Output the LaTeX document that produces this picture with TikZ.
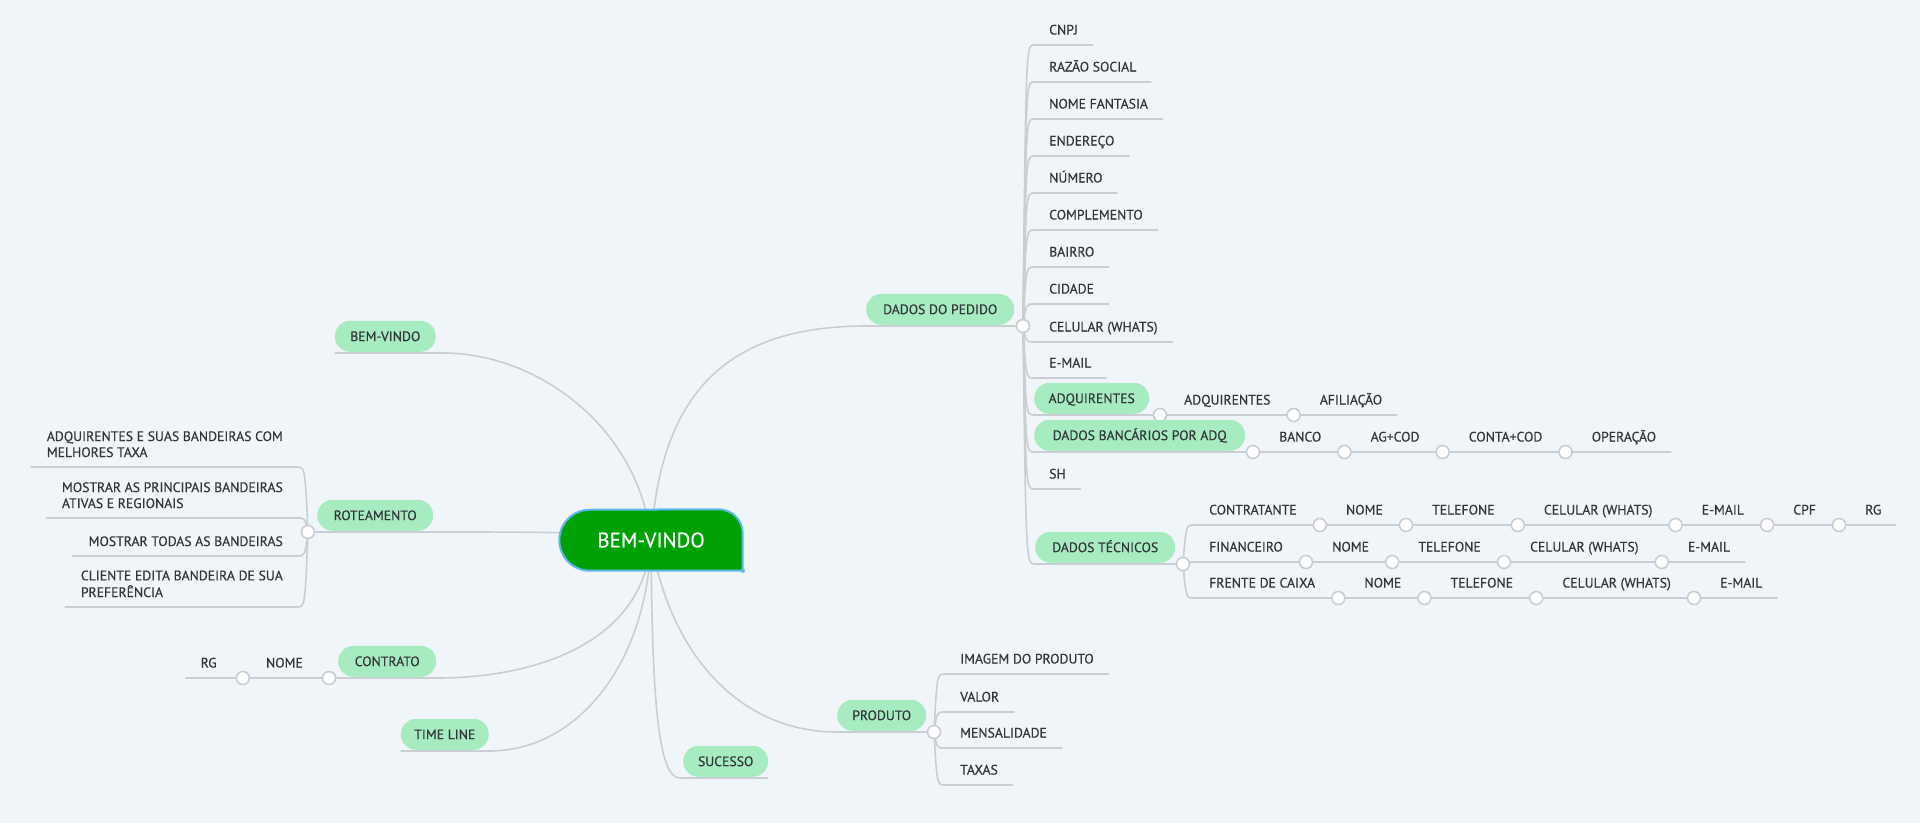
\documentclass[tikz,border=0pt]{standalone}
\usepackage{fontspec}
\setmainfont{PT Sans}[FakeBold=0.35]
\usetikzlibrary{calc}
\pgfdeclarelayer{back}
\pgfdeclarelayer{bg}
\pgfdeclarelayer{mid}
\pgfsetlayers{back,bg,mid,main}
\definecolor{bgc}{RGB}{240,245,249}
\definecolor{pillg}{RGB}{166,236,192}
\definecolor{rootg}{RGB}{0,161,4}
\definecolor{rootb}{RGB}{96,184,240}
\definecolor{linec}{RGB}{202,206,210}
\definecolor{txt}{RGB}{50,54,58}
\begin{document}
\begin{tikzpicture}[x=1pt,y=-1pt,
  conn/.style={draw=linec,line width=1.6pt},
  dotc/.style={circle,draw=linec,fill=white,line width=1.6pt,minimum size=13pt,inner sep=0pt},
  leaf/.style={font=\fontsize{13.7}{16}\selectfont,text=txt,inner sep=0pt,anchor=base west},
  leafr/.style={leaf,anchor=base east},
  pill/.style={rectangle,rounded corners=15.5pt,fill=pillg,minimum height=31pt,inner xsep=2pt,inner ysep=0pt,text height=9.6pt,text depth=0pt,font=\fontsize{13.7}{16}\selectfont,text=txt},
]
\begin{pgfonlayer}{back}
\fill[bgc] (0,0) rectangle (1920,823);
\end{pgfonlayer}
\useasboundingbox (0,0) rectangle (1920,823);

% ---------- root ----------
\coordinate (rootc) at (651,540);
\node[rectangle,minimum width=183pt,minimum height=61pt,inner sep=0pt,font=\fontsize{21}{24}\selectfont,text=white] (root) at (rootc) {BEM-VINDO};
\begin{pgfonlayer}{mid}
\filldraw[fill=rootg,draw=rootb,line width=2pt]
  ([xshift=30.5pt]root.south west) arc[start angle=270,end angle=90,radius=30.5pt]
  -- ([xshift=-24pt]root.north east) arc[start angle=90,end angle=0,radius=24pt]
  -- (root.south east) -- cycle;
\fill[rootb] (root.south east) circle (2.2pt);
\end{pgfonlayer}

% ---------- main topics ----------
\node[pill,minimum width=148pt,anchor=south west] (dp) at (866,325) {DADOS DO PEDIDO};
\node[dotc] (dpc) at (1023,326) {};
\node[pill,minimum width=101pt,anchor=south east] (bw) at (436,352) {BEM-VINDO};
\node[pill,minimum width=116pt,anchor=south west] (ro) at (317,531) {ROTEAMENTO};
\node[dotc] (roc) at (308,532) {};
\node[pill,minimum width=98pt,anchor=south west] (co) at (338,677) {CONTRATO};
\node[dotc] (coc) at (329,678) {};
\node[pill,minimum width=88pt,anchor=south east] (tl) at (489,750) {TIME LINE};
\node[pill,minimum width=85pt,anchor=south west] (su) at (683,777) {SUCESSO};
\node[pill,minimum width=89pt,anchor=south west] (pr) at (837,731) {PRODUTO};
\node[dotc] (prc) at (934,732) {};

% ---------- DADOS DO PEDIDO leaves ----------
\foreach \nm/\txt/\uy in {cnpj/CNPJ/45, razao/RAZÃO SOCIAL/82, fant/NOME FANTASIA/119, ender/ENDEREÇO/156, num/NÚMERO/193, compl/COMPLEMENTO/230, bairro/BAIRRO/267, cid/CIDADE/304, cel/{CELULAR (WHATS)}/342, mail/E-MAIL/378, sh/SH/489}
  \node[leaf] (\nm) at (1049,\uy-10.5) {\txt};

% ADQUIRENTES
\node[pill,minimum width=115pt,anchor=south west] (adq) at (1034,414) {ADQUIRENTES};
\node[dotc] (adqc) at (1160,415) {};
\node[leaf] (adq2) at ($(adqc)+(24,-10.5)$) {ADQUIRENTES};
\node[dotc] (adq2c) at ($(adq2.base east)+(23,10.5)$) {};
\node[leaf] (afil) at ($(adq2c)+(26,-10.5)$) {AFILIAÇÃO};
\coordinate (afile) at ($(afil.base east)+(15,10.5)$);

% DADOS BANCARIOS
\node[pill,minimum width=211pt,anchor=south west] (dba) at (1034,451) {DADOS BANCÁRIOS POR ADQ};
\node[dotc] (dbac) at (1253,452) {};
\node[leaf] (banco) at ($(dbac)+(26,-10.5)$) {BANCO};
\node[dotc] (bancoc) at ($(banco.base east)+(23,10.5)$) {};
\node[leaf] (ag) at ($(bancoc)+(26,-10.5)$) {AG+COD};
\node[dotc] (agc) at ($(ag.base east)+(23,10.5)$) {};
\node[leaf] (conta) at ($(agc)+(26,-10.5)$) {CONTA+COD};
\node[dotc] (contac) at ($(conta.base east)+(23,10.5)$) {};
\node[leaf] (oper) at ($(contac)+(26,-10.5)$) {OPERAÇÃO};
\coordinate (opere) at ($(oper.base east)+(15,10.5)$);

% DADOS TECNICOS
\node[pill,minimum width=140pt,anchor=south west] (dt) at (1035,563) {DADOS TÉCNICOS};
\node[dotc] (dtc) at (1183,564) {};
% row 1
\node[leaf] (ra1) at (1209,514.5) {CONTRATANTE};
\node[dotc] (ra1c) at ($(ra1.base east)+(23,10.5)$) {};
\node[leaf] (ra2) at ($(ra1c)+(26,-10.5)$) {NOME};
\node[dotc] (ra2c) at ($(ra2.base east)+(23,10.5)$) {};
\node[leaf] (ra3) at ($(ra2c)+(26,-10.5)$) {TELEFONE};
\node[dotc] (ra3c) at ($(ra3.base east)+(23,10.5)$) {};
\node[leaf] (ra4) at ($(ra3c)+(26,-10.5)$) {CELULAR (WHATS)};
\node[dotc] (ra4c) at ($(ra4.base east)+(23,10.5)$) {};
\node[leaf] (ra5) at ($(ra4c)+(26,-10.5)$) {E-MAIL};
\node[dotc] (ra5c) at ($(ra5.base east)+(23,10.5)$) {};
\node[leaf] (ra6) at ($(ra5c)+(26,-10.5)$) {CPF};
\node[dotc] (ra6c) at ($(ra6.base east)+(23,10.5)$) {};
\node[leaf] (ra7) at ($(ra6c)+(26,-10.5)$) {RG};
\coordinate (ra7e) at ($(ra7.base east)+(15,10.5)$);
% row 2
\node[leaf] (rb1) at (1209,551.5) {FINANCEIRO};
\node[dotc] (rb1c) at ($(rb1.base east)+(23,10.5)$) {};
\node[leaf] (rb2) at ($(rb1c)+(26,-10.5)$) {NOME};
\node[dotc] (rb2c) at ($(rb2.base east)+(23,10.5)$) {};
\node[leaf] (rb3) at ($(rb2c)+(26,-10.5)$) {TELEFONE};
\node[dotc] (rb3c) at ($(rb3.base east)+(23,10.5)$) {};
\node[leaf] (rb4) at ($(rb3c)+(26,-10.5)$) {CELULAR (WHATS)};
\node[dotc] (rb4c) at ($(rb4.base east)+(23,10.5)$) {};
\node[leaf] (rb5) at ($(rb4c)+(26,-10.5)$) {E-MAIL};
\coordinate (rb5e) at ($(rb5.base east)+(15,10.5)$);
% row 3
\node[leaf] (rc1) at (1209,587.5) {FRENTE DE CAIXA};
\node[dotc] (rc1c) at ($(rc1.base east)+(23,10.5)$) {};
\node[leaf] (rc2) at ($(rc1c)+(26,-10.5)$) {NOME};
\node[dotc] (rc2c) at ($(rc2.base east)+(23,10.5)$) {};
\node[leaf] (rc3) at ($(rc2c)+(26,-10.5)$) {TELEFONE};
\node[dotc] (rc3c) at ($(rc3.base east)+(23,10.5)$) {};
\node[leaf] (rc4) at ($(rc3c)+(26,-10.5)$) {CELULAR (WHATS)};
\node[dotc] (rc4c) at ($(rc4.base east)+(23,10.5)$) {};
\node[leaf] (rc5) at ($(rc4c)+(26,-10.5)$) {E-MAIL};
\coordinate (rc5e) at ($(rc5.base east)+(15,10.5)$);

% ---------- PRODUTO leaves ----------
\foreach \nm/\txt/\uy in {img/IMAGEM DO PRODUTO/674, val/VALOR/712, mens/MENSALIDADE/748, tax/TAXAS/785}
  \node[leaf] (\nm) at (960,\uy-10.5) {\txt};

% ---------- ROTEAMENTO leaves ----------
\node[leafr] (r1) at (283,457) {\begin{tabular}[b]{@{}l@{}}ADQUIRENTES E SUAS BANDEIRAS COM\\MELHORES TAXA\end{tabular}};
\node[leafr] (r2) at (283,508) {\begin{tabular}[b]{@{}l@{}}MOSTRAR AS PRINCIPAIS BANDEIRAS\\ATIVAS E REGIONAIS\end{tabular}};
\node[leafr] (r3) at (283,546) {MOSTRAR TODAS AS BANDEIRAS};
\node[leafr] (r4) at (283,597) {\begin{tabular}[b]{@{}l@{}}CLIENTE EDITA BANDEIRA DE SUA\\PREFERÊNCIA\end{tabular}};

% ---------- CONTRATO leaves ----------
\node[leafr] (conome) at ($(coc)+(-26,-10.5)$) {NOME};
\node[dotc] (conomec) at ($(conome.base west)+(-23,10.5)$) {};
\node[leafr] (corg) at ($(conomec)+(-26,-10.5)$) {RG};
\coordinate (corge) at ($(corg.base west)+(-15,10.5)$);

% ---------- connectors ----------
\begin{pgfonlayer}{bg}
% from root
\draw[conn] (rootc) .. controls (660,400) and (720,326) .. (866,326) -- (dpc.center);
\draw[conn] (rootc) .. controls (640,430) and (540,353) .. (443,353) -- ($(bw.south west)+(0,1)$);
\draw[conn] (rootc) .. controls (600,532) and (560,532) .. (433,532) -- (roc.center);
\draw[conn] (rootc) .. controls (645,640) and (540,678) .. (437,678) -- (coc.center) -- (conomec.center) -- (corge);
\draw[conn] (rootc) .. controls (648,660) and (580,751) .. (489,751) -- ($(tl.south west)+(0,1)$);
\draw[conn] (rootc) .. controls (652,700) and (658,778) .. (680,778) -- ($(su.south east)+(0,1)$);
\draw[conn] (rootc) .. controls (670,655) and (740,732) .. (837,732) -- (prc.center);
% DADOS DO PEDIDO
\foreach \nm/\uy in {cnpj/45, razao/82, fant/119, ender/156, num/193, compl/230, bairro/267, cid/304, cel/342, mail/378, sh/489}
  \draw[conn] (dpc.center) .. controls (1026,\uy) .. (1034,\uy) -- ($(\nm.base east)+(15,10.5)$);
\draw[conn] (dpc.center) .. controls (1026,415) .. (1034,415) -- (adqc.center) -- (adq2c.center) -- (afile);
\draw[conn] (dpc.center) .. controls (1026,452) .. (1034,452) -- (dbac.center) -- (bancoc.center) -- (agc.center) -- (contac.center) -- (opere);
\draw[conn] (dpc.center) .. controls (1026,564) .. (1035,564) -- (dtc.center);
% DADOS TECNICOS rows
\draw[conn] (dtc.center) .. controls (1186,525) .. (1194,525) -- (ra1c.center) -- (ra2c.center) -- (ra3c.center) -- (ra4c.center) -- (ra5c.center) -- (ra6c.center) -- (ra7e);
\draw[conn] (dtc.center) .. controls (1186,562) .. (1194,562) -- (rb1c.center) -- (rb2c.center) -- (rb3c.center) -- (rb4c.center) -- (rb5e);
\draw[conn] (dtc.center) .. controls (1186,598) .. (1194,598) -- (rc1c.center) -- (rc2c.center) -- (rc3c.center) -- (rc4c.center) -- (rc5e);
% PRODUTO
\foreach \nm/\uy in {img/674, val/712, mens/748, tax/785}
  \draw[conn] (prc.center) .. controls (937,\uy) .. (945,\uy) -- ($(\nm.base east)+(15,10.5)$);
% ROTEAMENTO
\foreach \nm/\uy in {r1/467, r2/518, r3/556, r4/607}
  \draw[conn] (roc.center) .. controls (305,\uy) .. (297,\uy) -- ($(\nm.base west)+(-16,10)$);
\end{pgfonlayer}
\end{tikzpicture}
\end{document}
